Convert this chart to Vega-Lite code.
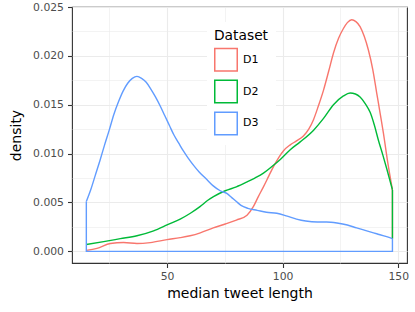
{
  "$schema": "https://vega.github.io/schema/vega-lite/v6.json",
  "width": 335,
  "height": 256,
  "autosize": {"type": "none"},
  "padding": {"left": 72, "top": 7, "right": 8, "bottom": 49},
  "config": {
    "font": "DejaVu Sans",
    "view": {"stroke": "#333333", "strokeWidth": 1.1},
    "axis": {"domain": false, "gridColor": "#EBEBEB", "tickColor": "#333333", "labelColor": "#4D4D4D", "labelFontSize": 10.8, "titleFontSize": 14, "titleFontWeight": "normal", "titleColor": "#000000", "tickSize": 4.5, "tickWidth": 1.1}
  },
  "data": {"values": [
    {"d":"D1","seg":"curve","x":15.1,"y":0.0001},{"d":"D1","seg":"curve","x":19.7,"y":0.0003},{"d":"D1","seg":"curve","x":25.5,"y":0.0008},{"d":"D1","seg":"curve","x":31.2,"y":0.0009},{"d":"D1","seg":"curve","x":37.0,"y":0.0008},{"d":"D1","seg":"curve","x":42.8,"y":0.0009},{"d":"D1","seg":"curve","x":50.0,"y":0.0012},{"d":"D1","seg":"curve","x":55.7,"y":0.0014},{"d":"D1","seg":"curve","x":60.0,"y":0.0016},{"d":"D1","seg":"curve","x":64.4,"y":0.0019},{"d":"D1","seg":"curve","x":70.0,"y":0.0024},{"d":"D1","seg":"curve","x":75.2,"y":0.0028},{"d":"D1","seg":"curve","x":80.0,"y":0.0032},{"d":"D1","seg":"curve","x":84.6,"y":0.0037},{"d":"D1","seg":"curve","x":87.4,"y":0.0046},{"d":"D1","seg":"curve","x":89.5,"y":0.0056},{"d":"D1","seg":"curve","x":91.7,"y":0.0066},{"d":"D1","seg":"curve","x":94.0,"y":0.0077},{"d":"D1","seg":"curve","x":96.1,"y":0.0087},{"d":"D1","seg":"curve","x":98.3,"y":0.0096},{"d":"D1","seg":"curve","x":100.4,"y":0.0103},{"d":"D1","seg":"curve","x":103.3,"y":0.0109},{"d":"D1","seg":"curve","x":106.0,"y":0.0113},{"d":"D1","seg":"curve","x":109.0,"y":0.0118},{"d":"D1","seg":"curve","x":111.3,"y":0.0125},{"d":"D1","seg":"curve","x":113.4,"y":0.0135},{"d":"D1","seg":"curve","x":115.5,"y":0.0149},{"d":"D1","seg":"curve","x":117.7,"y":0.0165},{"d":"D1","seg":"curve","x":120.0,"y":0.0185},{"d":"D1","seg":"curve","x":122.0,"y":0.0203},{"d":"D1","seg":"curve","x":124.2,"y":0.0218},{"d":"D1","seg":"curve","x":126.3,"y":0.0228},{"d":"D1","seg":"curve","x":128.0,"y":0.0234},{"d":"D1","seg":"curve","x":129.9,"y":0.0237},{"d":"D1","seg":"curve","x":131.7,"y":0.0235},{"d":"D1","seg":"curve","x":133.5,"y":0.0230},{"d":"D1","seg":"curve","x":135.3,"y":0.0220},{"d":"D1","seg":"curve","x":137.1,"y":0.0206},{"d":"D1","seg":"curve","x":139.0,"y":0.0186},{"d":"D1","seg":"curve","x":140.7,"y":0.0162},{"d":"D1","seg":"curve","x":142.2,"y":0.0141},{"d":"D1","seg":"curve","x":143.6,"y":0.0121},{"d":"D1","seg":"curve","x":145.4,"y":0.0092},{"d":"D1","seg":"curve","x":147.5,"y":0.0063},
    {"d":"D2","seg":"curve","x":15.1,"y":0.0007},{"d":"D2","seg":"curve","x":22.6,"y":0.0010},{"d":"D2","seg":"curve","x":29.8,"y":0.0013},{"d":"D2","seg":"curve","x":37.0,"y":0.0016},{"d":"D2","seg":"curve","x":44.2,"y":0.0021},{"d":"D2","seg":"curve","x":50.0,"y":0.0027},{"d":"D2","seg":"curve","x":55.7,"y":0.0033},{"d":"D2","seg":"curve","x":60.1,"y":0.0039},{"d":"D2","seg":"curve","x":64.4,"y":0.0046},{"d":"D2","seg":"curve","x":67.5,"y":0.0052},{"d":"D2","seg":"curve","x":70.1,"y":0.0056},{"d":"D2","seg":"curve","x":75.2,"y":0.0062},{"d":"D2","seg":"curve","x":80.0,"y":0.0066},{"d":"D2","seg":"curve","x":84.6,"y":0.0071},{"d":"D2","seg":"curve","x":88.0,"y":0.0075},{"d":"D2","seg":"curve","x":91.7,"y":0.0080},{"d":"D2","seg":"curve","x":95.5,"y":0.0087},{"d":"D2","seg":"curve","x":99.0,"y":0.0094},{"d":"D2","seg":"curve","x":103.3,"y":0.0104},{"d":"D2","seg":"curve","x":107.6,"y":0.0112},{"d":"D2","seg":"curve","x":113.4,"y":0.0124},{"d":"D2","seg":"curve","x":117.7,"y":0.0136},{"d":"D2","seg":"curve","x":122.0,"y":0.0150},{"d":"D2","seg":"curve","x":126.3,"y":0.0159},{"d":"D2","seg":"curve","x":129.2,"y":0.0162},{"d":"D2","seg":"curve","x":131.5,"y":0.0161},{"d":"D2","seg":"curve","x":133.5,"y":0.0158},{"d":"D2","seg":"curve","x":135.8,"y":0.0151},{"d":"D2","seg":"curve","x":137.9,"y":0.0142},{"d":"D2","seg":"curve","x":139.7,"y":0.0129},{"d":"D2","seg":"curve","x":141.4,"y":0.0114},{"d":"D2","seg":"curve","x":143.3,"y":0.0099},{"d":"D2","seg":"curve","x":145.1,"y":0.0084},{"d":"D2","seg":"curve","x":147.5,"y":0.0063},
    {"d":"D3","seg":"curve","x":15.1,"y":0.0051},{"d":"D3","seg":"curve","x":17.0,"y":0.0063},{"d":"D3","seg":"curve","x":19.0,"y":0.0078},{"d":"D3","seg":"curve","x":21.0,"y":0.0093},{"d":"D3","seg":"curve","x":23.0,"y":0.0109},{"d":"D3","seg":"curve","x":25.0,"y":0.0124},{"d":"D3","seg":"curve","x":27.0,"y":0.0140},{"d":"D3","seg":"curve","x":29.0,"y":0.0153},{"d":"D3","seg":"curve","x":31.0,"y":0.0164},{"d":"D3","seg":"curve","x":33.0,"y":0.0172},{"d":"D3","seg":"curve","x":35.0,"y":0.0177},{"d":"D3","seg":"curve","x":37.0,"y":0.0179},{"d":"D3","seg":"curve","x":39.0,"y":0.0177},{"d":"D3","seg":"curve","x":41.0,"y":0.0173},{"d":"D3","seg":"curve","x":43.0,"y":0.0166},{"d":"D3","seg":"curve","x":45.0,"y":0.0158},{"d":"D3","seg":"curve","x":47.0,"y":0.0149},{"d":"D3","seg":"curve","x":49.0,"y":0.0139},{"d":"D3","seg":"curve","x":51.0,"y":0.0129},{"d":"D3","seg":"curve","x":53.0,"y":0.0119},{"d":"D3","seg":"curve","x":55.0,"y":0.0111},{"d":"D3","seg":"curve","x":57.0,"y":0.0103},{"d":"D3","seg":"curve","x":59.0,"y":0.0096},{"d":"D3","seg":"curve","x":61.5,"y":0.0088},{"d":"D3","seg":"curve","x":64.0,"y":0.0081},{"d":"D3","seg":"curve","x":67.0,"y":0.0074},{"d":"D3","seg":"curve","x":70.0,"y":0.0067},{"d":"D3","seg":"curve","x":73.0,"y":0.0062},{"d":"D3","seg":"curve","x":76.0,"y":0.0059},{"d":"D3","seg":"curve","x":78.0,"y":0.0055},{"d":"D3","seg":"curve","x":80.0,"y":0.0051},{"d":"D3","seg":"curve","x":82.0,"y":0.0047},{"d":"D3","seg":"curve","x":85.0,"y":0.0044},{"d":"D3","seg":"curve","x":89.0,"y":0.0042},{"d":"D3","seg":"curve","x":93.0,"y":0.0040},{"d":"D3","seg":"curve","x":97.5,"y":0.0039},{"d":"D3","seg":"curve","x":102.0,"y":0.0036},{"d":"D3","seg":"curve","x":106.0,"y":0.0033},{"d":"D3","seg":"curve","x":110.0,"y":0.0031},{"d":"D3","seg":"curve","x":115.0,"y":0.0030},{"d":"D3","seg":"curve","x":119.0,"y":0.0030},{"d":"D3","seg":"curve","x":123.5,"y":0.0029},{"d":"D3","seg":"curve","x":128.0,"y":0.0027},{"d":"D3","seg":"curve","x":132.0,"y":0.0024},{"d":"D3","seg":"curve","x":136.4,"y":0.0021},{"d":"D3","seg":"curve","x":140.7,"y":0.0018},{"d":"D3","seg":"curve","x":145.0,"y":0.0015},{"d":"D3","seg":"curve","x":147.5,"y":0.0013},
    {"d":"D1","seg":"base","o":1,"x":147.5,"y":0.0013},{"d":"D1","seg":"base","o":2,"x":147.5,"y":0.0063},
    {"d":"D2","seg":"base","o":1,"x":147.5,"y":0.0013},{"d":"D2","seg":"base","o":2,"x":147.5,"y":0.0063},
    {"d":"D3","seg":"base","o":1,"x":15.1,"y":0.0051},{"d":"D3","seg":"base","o":2,"x":15.1,"y":0},{"d":"D3","seg":"base","o":3,"x":147.5,"y":0},{"d":"D3","seg":"base","o":4,"x":147.5,"y":0.0013}
  ]},
  "layer": [
    {
      "transform": [{"filter": "datum.seg == 'base' && datum.d != 'D3'"}],
      "mark": {"type": "line", "strokeWidth": 1.4, "interpolate": "linear"},
      "encoding": {
        "x": {"field": "x", "type": "quantitative", "scale": {"domain": [8.9, 153.8], "nice": false, "zero": false},
              "axis": {"orient": "bottom", "values": [25, 75, 125], "grid": true, "gridWidth": 0.6, "labels": false, "ticks": false, "title": null}},
        "y": {"field": "y", "type": "quantitative", "scale": {"domain": [-0.00119, 0.025], "nice": false, "zero": false},
              "axis": {"orient": "left", "values": [0.0025, 0.0075, 0.0125, 0.0175, 0.0225], "grid": true, "gridWidth": 0.6, "labels": false, "ticks": false, "title": null}},
        "order": {"field": "o", "type": "quantitative"},
        "color": {"field": "d", "type": "nominal", "scale": {"domain": ["D1", "D2", "D3"], "range": ["#F8766D", "#00BA38", "#619CFF"]},
                  "legend": {"title": "Dataset", "orient": "none", "legendX": 135, "legendY": 15, "fillColor": "white", "padding": 7, "symbolType": "square", "symbolSize": 506, "symbolStrokeWidth": 1.5, "symbolFillColor": "white", "labelFontSize": 11, "labelColor": "#000000", "labelOffset": 5, "titleFontSize": 13.8, "titleFontWeight": "normal", "titleColor": "#000000", "titlePadding": 5, "rowPadding": 1.8}}
      }
    },
    {
      "transform": [{"filter": "datum.seg == 'curve'"}],
      "mark": {"type": "line", "strokeWidth": 1.4, "interpolate": "monotone"},
      "encoding": {
        "x": {"field": "x", "type": "quantitative",
              "axis": {"orient": "bottom", "values": [50, 100, 150], "grid": true, "gridWidth": 1.1, "labelPadding": 3, "title": "median tweet length", "titlePadding": 5}},
        "y": {"field": "y", "type": "quantitative",
              "axis": {"orient": "left", "values": [0, 0.005, 0.01, 0.015, 0.02, 0.025], "format": ".3f", "grid": true, "gridWidth": 1.1, "labelPadding": 4, "title": "density", "titlePadding": 9}},
        "color": {"field": "d", "type": "nominal",
                  "legend": {"title": "Dataset", "orient": "none", "legendX": 135, "legendY": 15, "fillColor": "white", "padding": 7, "symbolType": "square", "symbolSize": 506, "symbolStrokeWidth": 1.5, "symbolFillColor": "white", "labelFontSize": 11, "labelColor": "#000000", "labelOffset": 5, "titleFontSize": 13.8, "titleFontWeight": "normal", "titleColor": "#000000", "titlePadding": 5, "rowPadding": 1.8}}
      }
    },
    {
      "transform": [{"filter": "datum.seg == 'base' && datum.d == 'D3'"}],
      "mark": {"type": "line", "strokeWidth": 1.4, "interpolate": "linear"},
      "encoding": {
        "x": {"field": "x", "type": "quantitative", "axis": null},
        "y": {"field": "y", "type": "quantitative", "axis": null},
        "order": {"field": "o", "type": "quantitative"},
        "color": {"field": "d", "type": "nominal",
                  "legend": {"title": "Dataset", "orient": "none", "legendX": 135, "legendY": 15, "fillColor": "white", "padding": 7, "symbolType": "square", "symbolSize": 506, "symbolStrokeWidth": 1.5, "symbolFillColor": "white", "labelFontSize": 11, "labelColor": "#000000", "labelOffset": 5, "titleFontSize": 13.8, "titleFontWeight": "normal", "titleColor": "#000000", "titlePadding": 5, "rowPadding": 1.8}}
      }
    }
  ],
  "resolve": {"axis": {"x": "independent", "y": "independent"}}
}
